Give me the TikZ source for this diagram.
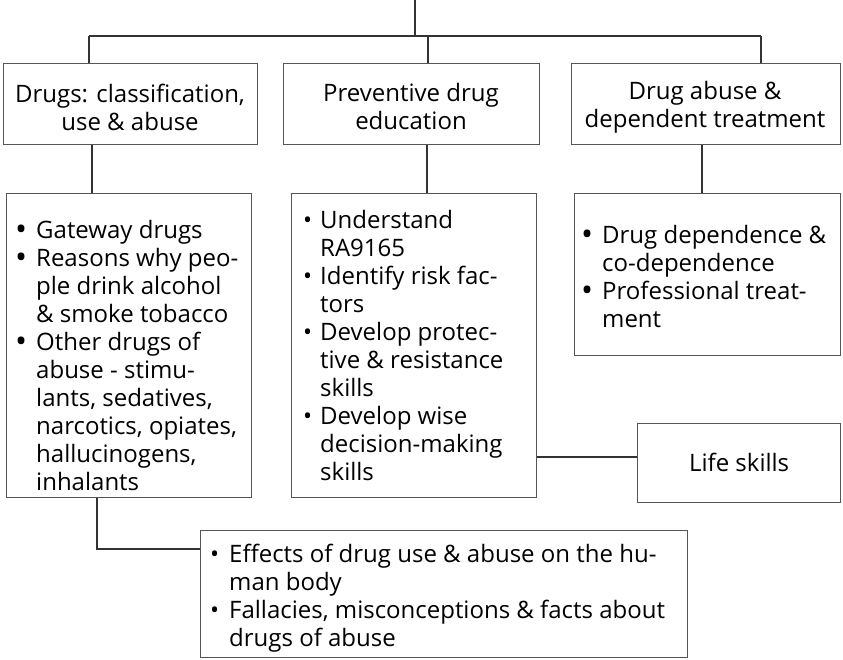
\documentclass[tikz,border=0pt]{standalone}
\usepackage{fontspec}
\setmainfont{Open Sans}
\definecolor{linegray}{HTML}{333333}
\definecolor{boxgray}{HTML}{555555}
\newlength{\bw}
% list items with a small or a large bullet, and continuation lines
\newcommand{\bigbul}{\smash{\raisebox{-2.5pt}{\fontsize{32}{28}\selectfont •}}}
\newcommand{\itm}[1]{\makebox[\bw][l]{•}#1}
\newcommand{\bitm}[1]{\makebox[\bw][l]{\bigbul}#1}
\newcommand{\cnt}[1]{\hspace*{\bw}#1}
\begin{document}
\begin{tikzpicture}[x=1pt,y=-1pt,
  frame/.style={draw=boxgray, line width=1.3pt, inner sep=0pt, anchor=north west},
  wire/.style={draw=linegray, line width=1.3pt},
  txt/.style={inner sep=0pt, font=\fontsize{24}{28}\selectfont, text=black},
  list/.style={txt, align=left, anchor=north west}]
\useasboundingbox (0,0) rectangle (843,660);

% top row boxes
\node[frame, minimum width=254, minimum height=81] (b1) at (3,63) {};
\node[frame, minimum width=256, minimum height=81] (b2) at (283,63) {};
\node[frame, minimum width=269, minimum height=81] (b3) at (571,63) {};
\node[txt, align=center] (t1) at (130,107) {Drugs: classification,\\use \& abuse};
\node[txt, align=center] (t2) at (411,107) {Preventive drug\\education};
\node[txt, align=center] (t3) at (705,107) {Drug abuse \&\\dependent treatment};

% second row boxes
\node[frame, minimum width=245, minimum height=304] (l1) at (6,193) {};
\node[frame, minimum width=245, minimum height=304] (l2) at (291,193) {};
\node[frame, minimum width=266, minimum height=162] (l3) at (574,193) {};
\node[frame, minimum width=203, minimum height=79] (ls) at (637,423) {};
\node[frame, minimum width=487, minimum height=127] (bb) at (200,530) {};

\setlength{\bw}{21pt}
\node[list] (x1) at (15,220) {\bitm{Gateway drugs}\\\bitm{Reasons why peo-}\\\cnt{ple drink alcohol}\\\cnt{\& smoke tobacco}\\\bitm{Other drugs of}\\\cnt{abuse - stimu-}\\\cnt{lants, sedatives,}\\\cnt{narcotics, opiates,}\\\cnt{hallucinogens,}\\\cnt{inhalants}};
\setlength{\bw}{17pt}
\node[list] (x2) at (303,210) {\itm{Understand}\\\cnt{RA9165}\\\itm{Identify risk fac-}\\\cnt{tors}\\\itm{Develop protec-}\\\cnt{tive \& resistance}\\\cnt{skills}\\\itm{Develop wise}\\\cnt{decision-making}\\\cnt{skills}};
\setlength{\bw}{21pt}
\node[list] (x3) at (581,225) {\bitm{Drug dependence \&}\\\cnt{co-dependence}\\\bitm{Professional treat-}\\\cnt{ment}};
\node[txt] (x4) at ([yshift=1pt]ls.center) {Life skills};
\setlength{\bw}{19pt}
\node[list] (x5) at (210,544) {\itm{Effects of drug use \& abuse on the hu-}\\\cnt{man body}\\\itm{Fallacies, misconceptions \& facts about}\\\cnt{drugs of abuse}};

% branch points
\coordinate (root) at (415,0);
\coordinate (hub) at (415,36);
\coordinate (jL) at (89,36);
\coordinate (jM) at (428,36);
\coordinate (jR) at (761,36);
\coordinate (d1) at (92,0);
\coordinate (d2) at (427,0);
\coordinate (d3) at (702,0);
\coordinate (d4) at (97,0);
\coordinate (h1) at (0,457);
\coordinate (h2) at (0,549);

% connectors
\draw[wire] (root) -- (hub);
\draw[wire] (jL) -- (jR);
\draw[wire] (jL) -- (jL |- b1.north);
\draw[wire] (jM) -- (jM |- b2.north);
\draw[wire] (jR) -- (jR |- b3.north);
\draw[wire] (b1.south -| d1) -- (l1.north -| d1);
\draw[wire] (b2.south -| d2) -- (l2.north -| d2);
\draw[wire] (b3.south -| d3) -- (l3.north -| d3);
\draw[wire] (l2.east |- h1) -- (ls.west |- h1);
\draw[wire] (l1.south -| d4) |- (bb.west |- h2);
\end{tikzpicture}
\end{document}
